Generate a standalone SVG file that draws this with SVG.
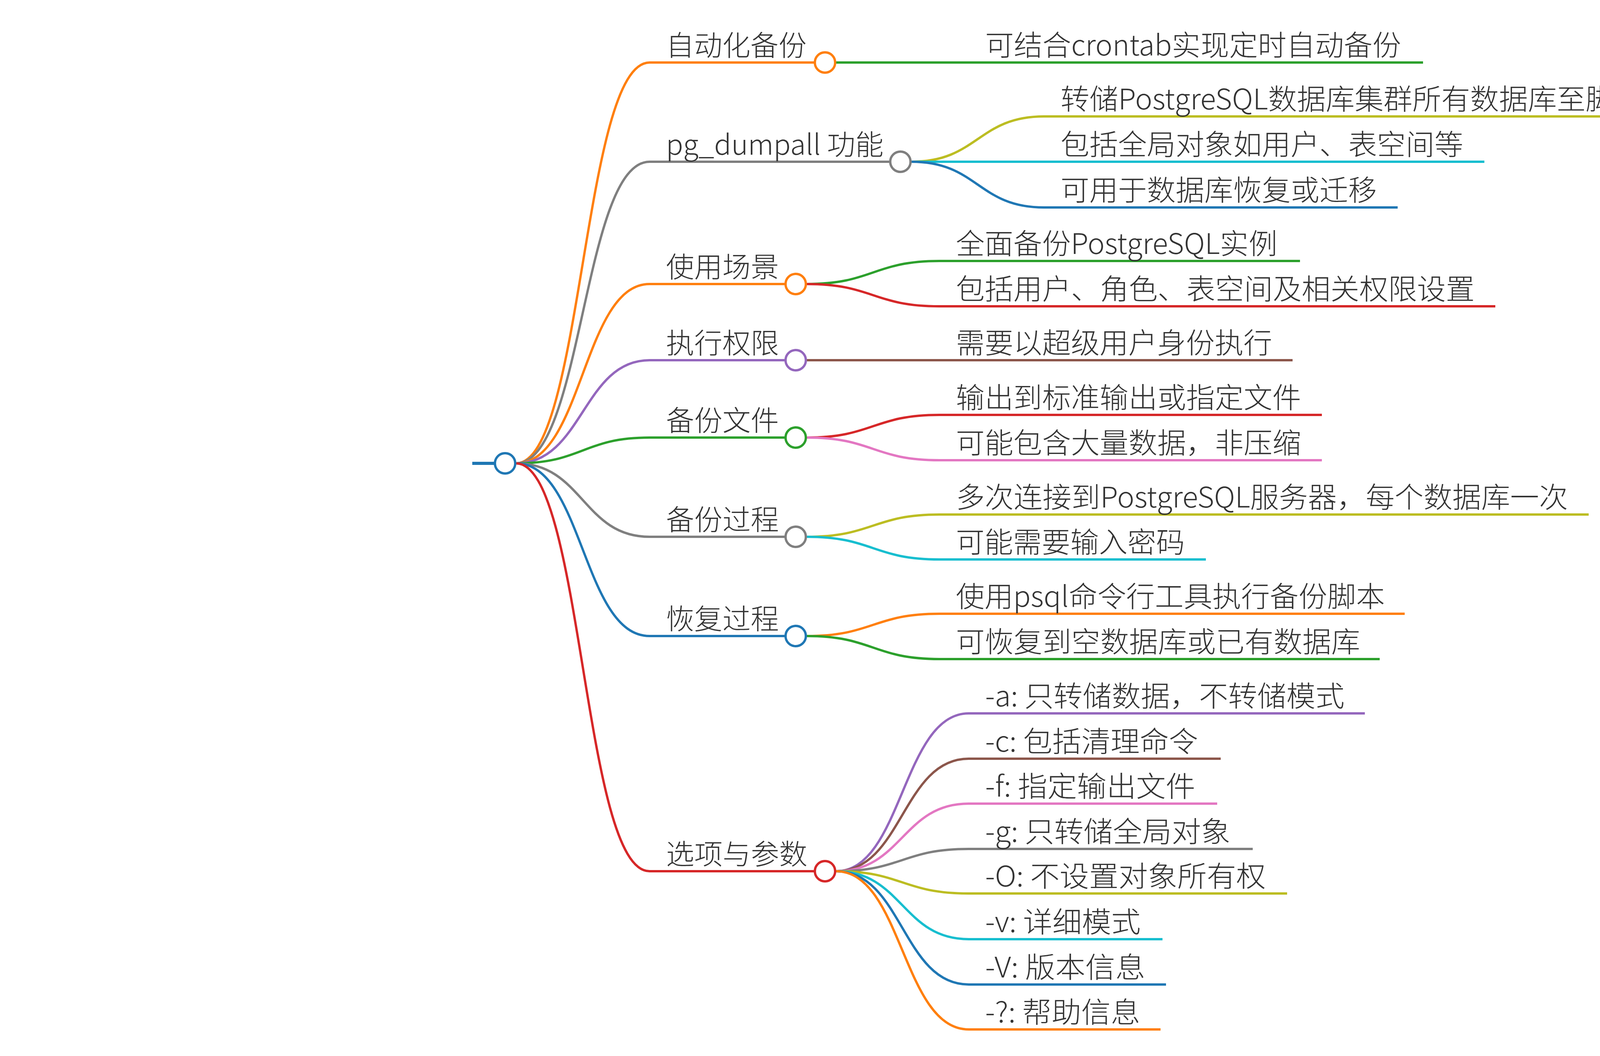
<svg xmlns="http://www.w3.org/2000/svg" width="5616" height="2703" viewBox="0 0 5616 2703">
<style>
.l{fill:none;stroke-width:6;stroke-linecap:butt}
.c{fill:#ffffff;stroke-width:6}
.t1{font-family:"Noto Sans CJK SC","Noto Sans",sans-serif;font-size:72px;font-weight:300;fill:#333333}
.t2{font-family:"Noto Sans CJK SC","Noto Sans",sans-serif;font-size:73px;font-weight:300;fill:#333333}
</style>
<rect width="5616" height="2703" fill="#ffffff"/>
<g id="connectors">
<line x1="1209" y1="1186" x2="1266" y2="1186" stroke="#1f77b4" stroke-width="8"/>
<path class="l" stroke="#ff7f0e" d="M1321,1186 C1492,1186 1492,160 1663,160 H2112"/>
<path class="l" stroke="#7f7f7f" d="M1321,1186 C1492,1186 1492,414 1663,414 H2305"/>
<path class="l" stroke="#ff7f0e" d="M1321,1186 C1492,1186 1492,727 1663,727 H2037"/>
<path class="l" stroke="#9467bd" d="M1321,1186 C1492,1186 1492,922 1663,922 H2037"/>
<path class="l" stroke="#2ca02c" d="M1321,1186 C1492,1186 1492,1120 1663,1120 H2037"/>
<path class="l" stroke="#7f7f7f" d="M1321,1186 C1492,1186 1492,1374 1663,1374 H2037"/>
<path class="l" stroke="#1f77b4" d="M1321,1186 C1492,1186 1492,1628 1663,1628 H2037"/>
<path class="l" stroke="#d62728" d="M1321,1186 C1492,1186 1492,2230 1663,2230 H2112"/>
<path class="l" stroke="#2ca02c" d="M2140,160 H3643"/>
<path class="l" stroke="#bcbd22" d="M2333,414 C2503,414 2503,298 2673,298 H4411"/>
<path class="l" stroke="#17becf" d="M2333,414 H3800"/>
<path class="l" stroke="#1f77b4" d="M2333,414 C2503,414 2503,531 2673,531 H3578"/>
<path class="l" stroke="#2ca02c" d="M2065,727 C2235,727 2235,668 2405,668 H3328"/>
<path class="l" stroke="#d62728" d="M2065,727 C2235,727 2235,784 2405,784 H3828"/>
<path class="l" stroke="#8c564b" d="M2065,922 H3309"/>
<path class="l" stroke="#d62728" d="M2065,1120 C2235,1120 2235,1062 2405,1062 H3384"/>
<path class="l" stroke="#e377c2" d="M2065,1120 C2235,1120 2235,1178 2405,1178 H3384"/>
<path class="l" stroke="#bcbd22" d="M2065,1374 C2235,1374 2235,1317 2405,1317 H4067"/>
<path class="l" stroke="#17becf" d="M2065,1374 C2235,1374 2235,1432 2405,1432 H3087"/>
<path class="l" stroke="#ff7f0e" d="M2065,1628 C2235,1628 2235,1571 2405,1571 H3596"/>
<path class="l" stroke="#2ca02c" d="M2065,1628 C2235,1628 2235,1687 2405,1687 H3532"/>
<path class="l" stroke="#9467bd" d="M2140,2230 C2310,2230 2310,1826 2480,1826 H3494"/>
<path class="l" stroke="#8c564b" d="M2140,2230 C2310,2230 2310,1942 2480,1942 H3125"/>
<path class="l" stroke="#e377c2" d="M2140,2230 C2310,2230 2310,2057 2480,2057 H3116"/>
<path class="l" stroke="#7f7f7f" d="M2140,2230 C2310,2230 2310,2173 2480,2173 H3207"/>
<path class="l" stroke="#bcbd22" d="M2140,2230 C2310,2230 2310,2287 2480,2287 H3295"/>
<path class="l" stroke="#17becf" d="M2140,2230 C2310,2230 2310,2404 2480,2404 H2976"/>
<path class="l" stroke="#1f77b4" d="M2140,2230 C2310,2230 2310,2520 2480,2520 H2985"/>
<path class="l" stroke="#ff7f0e" d="M2140,2230 C2310,2230 2310,2635 2480,2635 H2971"/>
</g>
<g id="root"><circle class="c" cx="1293" cy="1186" r="26" stroke="#1f77b4"/></g>
<g id="n1"><text class="t1" x="1705" y="142" textLength="360" lengthAdjust="spacingAndGlyphs">自动化备份</text><circle class="c" cx="2112" cy="160" r="26" stroke="#ff7f0e"/></g>
<g id="n2"><text class="t1" x="1705" y="396" textLength="557" lengthAdjust="spacingAndGlyphs">pg_dumpall 功能</text><circle class="c" cx="2305" cy="414" r="26" stroke="#7f7f7f"/></g>
<g id="n3"><text class="t1" x="1705" y="709" textLength="289" lengthAdjust="spacingAndGlyphs">使用场景</text><circle class="c" cx="2037" cy="727" r="26" stroke="#ff7f0e"/></g>
<g id="n4"><text class="t1" x="1705" y="904" textLength="289" lengthAdjust="spacingAndGlyphs">执行权限</text><circle class="c" cx="2037" cy="922" r="26" stroke="#9467bd"/></g>
<g id="n5"><text class="t1" x="1705" y="1102" textLength="289" lengthAdjust="spacingAndGlyphs">备份文件</text><circle class="c" cx="2037" cy="1120" r="26" stroke="#2ca02c"/></g>
<g id="n6"><text class="t1" x="1705" y="1356" textLength="289" lengthAdjust="spacingAndGlyphs">备份过程</text><circle class="c" cx="2037" cy="1374" r="26" stroke="#7f7f7f"/></g>
<g id="n7"><text class="t1" x="1705" y="1610" textLength="289" lengthAdjust="spacingAndGlyphs">恢复过程</text><circle class="c" cx="2037" cy="1628" r="26" stroke="#1f77b4"/></g>
<g id="n8"><text class="t1" x="1705" y="2212" textLength="362" lengthAdjust="spacingAndGlyphs">选项与参数</text><circle class="c" cx="2112" cy="2230" r="26" stroke="#d62728"/></g>
<g id="n1a"><text class="t2" x="2522" y="142" textLength="1065" lengthAdjust="spacingAndGlyphs">可结合crontab实现定时自动备份</text></g>
<g id="n2a"><text class="t2" x="2715" y="280" textLength="1640" lengthAdjust="spacingAndGlyphs">转储PostgreSQL数据库集群所有数据库至脚本文件</text></g>
<g id="n2b"><text class="t2" x="2715" y="396" textLength="1031" lengthAdjust="spacingAndGlyphs">包括全局对象如用户、表空间等</text></g>
<g id="n2c"><text class="t2" x="2715" y="513" textLength="810" lengthAdjust="spacingAndGlyphs">可用于数据库恢复或迁移</text></g>
<g id="n3a"><text class="t2" x="2447" y="650" textLength="823" lengthAdjust="spacingAndGlyphs">全面备份PostgreSQL实例</text></g>
<g id="n3b"><text class="t2" x="2447" y="766" textLength="1328" lengthAdjust="spacingAndGlyphs">包括用户、角色、表空间及相关权限设置</text></g>
<g id="n4a"><text class="t2" x="2447" y="904" textLength="810" lengthAdjust="spacingAndGlyphs">需要以超级用户身份执行</text></g>
<g id="n5a"><text class="t2" x="2447" y="1044" textLength="884" lengthAdjust="spacingAndGlyphs">输出到标准输出或指定文件</text></g>
<g id="n5b"><text class="t2" x="2447" y="1160" textLength="884" lengthAdjust="spacingAndGlyphs">可能包含大量数据，非压缩</text></g>
<g id="n6a"><text class="t2" x="2447" y="1299" textLength="1567" lengthAdjust="spacingAndGlyphs">多次连接到PostgreSQL服务器，每个数据库一次</text></g>
<g id="n6b"><text class="t2" x="2447" y="1414" textLength="586" lengthAdjust="spacingAndGlyphs">可能需要输入密码</text></g>
<g id="n7a"><text class="t2" x="2447" y="1553" textLength="1098" lengthAdjust="spacingAndGlyphs">使用psql命令行工具执行备份脚本</text></g>
<g id="n7b"><text class="t2" x="2447" y="1669" textLength="1035" lengthAdjust="spacingAndGlyphs">可恢复到空数据库或已有数据库</text></g>
<g id="n8a"><text class="t2" x="2522" y="1808" textLength="920" lengthAdjust="spacingAndGlyphs">-a: 只转储数据，不转储模式</text></g>
<g id="n8b"><text class="t2" x="2522" y="1924" textLength="545" lengthAdjust="spacingAndGlyphs">-c: 包括清理命令</text></g>
<g id="n8c"><text class="t2" x="2522" y="2039" textLength="538" lengthAdjust="spacingAndGlyphs">-f: 指定输出文件</text></g>
<g id="n8d"><text class="t2" x="2522" y="2155" textLength="628" lengthAdjust="spacingAndGlyphs">-g: 只转储全局对象</text></g>
<g id="n8e"><text class="t2" x="2522" y="2269" textLength="718" lengthAdjust="spacingAndGlyphs">-O: 不设置对象所有权</text></g>
<g id="n8f"><text class="t2" x="2522" y="2386" textLength="398" lengthAdjust="spacingAndGlyphs">-v: 详细模式</text></g>
<g id="n8g"><text class="t2" x="2522" y="2502" textLength="410" lengthAdjust="spacingAndGlyphs">-V: 版本信息</text></g>
<g id="n8h"><text class="t2" x="2522" y="2617" textLength="397" lengthAdjust="spacingAndGlyphs">-?: 帮助信息</text></g>
</svg>
